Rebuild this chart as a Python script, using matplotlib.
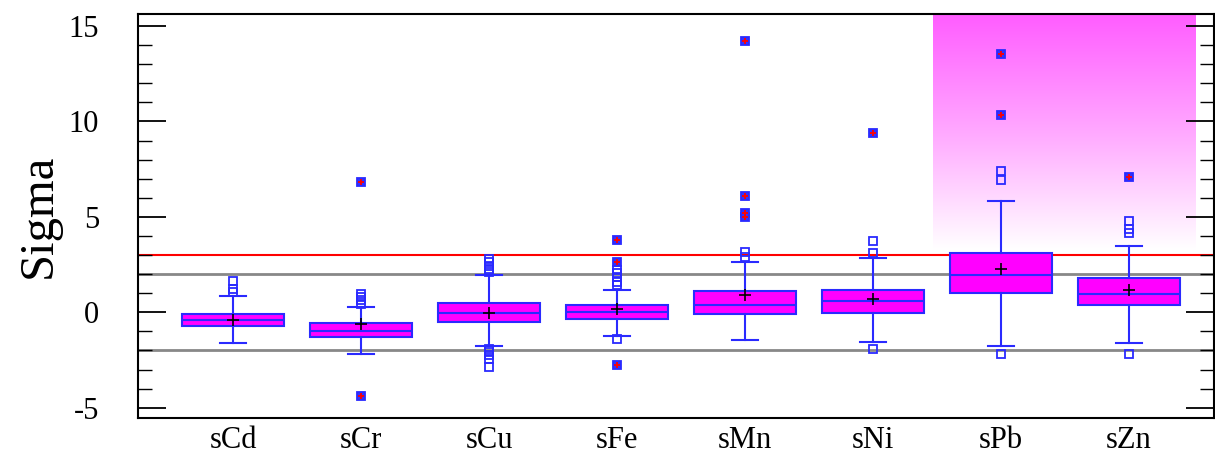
import matplotlib
matplotlib.use('Agg')
import matplotlib.pyplot as plt
import numpy as np
from matplotlib.colors import LinearSegmentedColormap
from matplotlib.ticker import MultipleLocator

plt.rcParams['axes.unicode_minus'] = False

# 各元素的箱线图统计量
labels = ['sCd', 'sCr', 'sCu', 'sFe', 'sMn', 'sNi', 'sPb', 'sZn']
q1 = [-0.74, -1.30, -0.51, -0.35, -0.10, -0.03, 1.02, 0.39]
med = [-0.42, -0.98, -0.02, 0.00, 0.39, 0.61, 1.95, 0.95]
q3 = [-0.10, -0.58, 0.47, 0.40, 1.10, 1.18, 3.09, 1.82]
whislo = [-1.60, -2.17, -1.79, -1.23, -1.47, -1.54, -1.79, -1.61]
whishi = [0.86, 0.30, 1.93, 1.18, 2.61, 2.86, 5.82, 3.49]
means = [-0.42, -0.63, -0.02, 0.16, 0.93, 0.68, 2.25, 1.19]

# 一般离群点 (空心方块)
outliers = [
    [1.65, 1.20, 1.07],
    [0.98, 0.80, 0.63, 0.46],
    [2.79, 2.61, 2.44, 2.26, 2.12, -1.91, -2.09, -2.26, -2.47, -2.86],
    [2.21, 2.04, 1.83, 1.60, 1.42, -1.42],
    [3.18, 2.91],
    [3.75, 3.12, -1.93],
    [7.42, 6.93, -2.18],
    [4.79, 4.35, 4.17, -2.18],
]
# 极端离群点 (红色十字)
extremes = [
    [],
    [6.84, -4.37],
    [],
    [3.79, 2.61, -2.74],
    [14.23, 6.07, 5.19, 4.98],
    [9.40],
    [13.51, 10.32],
    [7.10],
]

ref_red = 3
ref_gray = [2, -2]

fig = plt.figure(figsize=(12.15, 4.58), dpi=100)
ax = fig.add_axes([0.1136, 0.0873, 0.8856, 0.8821])

# 高亮区域的渐变背景
cmap = LinearSegmentedColormap.from_list('pk', ['white', '#ffa8ff', '#ff5cff'])
grad = np.linspace(0, 1, 256).reshape(-1, 1)
ax.imshow(grad, cmap=cmap, extent=[6.47, 8.52, 3.26, 15.63], origin='lower',
          aspect='auto', zorder=0, vmin=0, vmax=1)

ax.axhline(ref_red, color='red', lw=1.5, zorder=1)
for g in ref_gray:
    ax.axhline(g, color='#888888', lw=2, zorder=1)

stats = []
for i in range(len(labels)):
    stats.append(dict(label=labels[i], q1=q1[i], med=med[i], q3=q3[i],
                      whislo=whislo[i], whishi=whishi[i], mean=means[i],
                      fliers=outliers[i]))

blue = '#2a2aff'
pos = np.arange(1, len(labels) + 1)
ax.bxp(stats, positions=pos, widths=0.8, capwidths=0.2, showmeans=True,
       patch_artist=True,
       boxprops=dict(facecolor='#ff00ff', edgecolor=blue, lw=1.5),
       medianprops=dict(color=blue, lw=1.5),
       whiskerprops=dict(color=blue, lw=1.5),
       capprops=dict(color=blue, lw=1.5),
       meanprops=dict(marker='+', color='black', markeredgecolor='black',
                      markersize=8, markeredgewidth=1.2),
       flierprops=dict(marker='s', markerfacecolor='none',
                       markeredgecolor=blue, markersize=6, markeredgewidth=1.3),
       zorder=3)

for i, ex in enumerate(extremes):
    if ex:
        xs = [pos[i]] * len(ex)
        ax.plot(xs, ex, ls='none', marker='s', mfc='#3030ff', mec=blue,
                ms=6, mew=1.3, zorder=4)
        ax.plot(xs, ex, ls='none', marker='+', color='red', ms=5, mew=1.3,
                zorder=5)

ax.set_xlim(0.258, 8.664)
ax.set_ylim(-5.54, 15.63)
ax.set_xticks(pos)
ax.set_xticklabels(labels, fontsize=22, family='Liberation Serif')
ax.tick_params(axis='x', length=0, pad=6)
ax.yaxis.set_major_locator(MultipleLocator(5))
ax.yaxis.set_minor_locator(MultipleLocator(1))
ax.tick_params(axis='y', which='major', direction='in', length=20, width=1.3,
               right=True, labelsize=22, pad=28)
ax.tick_params(axis='y', which='minor', direction='in', length=10, width=1.0,
               right=True)
for t in ax.get_yticklabels():
    t.set_family('Liberation Serif')
ax.set_ylabel('Sigma', fontsize=35, family='Liberation Serif', labelpad=6)
for s in ax.spines.values():
    s.set_linewidth(1.5)

fig.savefig('out.png', dpi=100)
